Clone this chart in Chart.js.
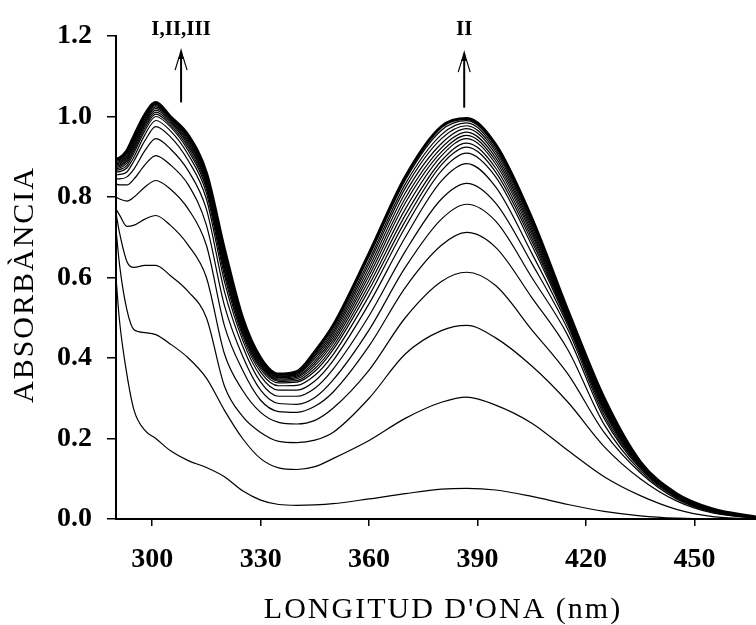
<!DOCTYPE html>
<html>
<head>
<meta charset="utf-8">
<script src="https://cdn.jsdelivr.net/npm/chart.js@4/dist/chart.umd.min.js"></script>
<style>
  html, body { margin: 0; padding: 0; background: #fff; }
  canvas { display: block; }
</style>
</head>
<body>
<canvas id="spectra" width="756" height="625"></canvas>
<script>
const wavelengths = [290, 291, 293, 295, 298, 301, 305, 310, 315, 320, 325, 330, 335, 340, 345, 350, 360, 370, 380, 387, 395, 405, 415, 425, 435, 445, 455, 467];

// absorbance spectra, lowest to highest
const abs01 = [0.60, 0.49, 0.36, 0.27, 0.22, 0.20, 0.17, 0.145, 0.128, 0.105, 0.07, 0.047, 0.036, 0.034, 0.035, 0.038, 0.05, 0.063, 0.074, 0.076, 0.072, 0.056, 0.036, 0.019, 0.008, 0.002, 0, 0];
const abs02 = [0.72, 0.63, 0.52, 0.47, 0.463, 0.458, 0.435, 0.40, 0.35, 0.27, 0.20, 0.15, 0.127, 0.123, 0.13, 0.15, 0.195, 0.25, 0.29, 0.303, 0.283, 0.238, 0.17, 0.105, 0.058, 0.024, 0.006, 0];
const abs03 = [0.76, 0.71, 0.64, 0.625, 0.63, 0.63, 0.605, 0.565, 0.50, 0.33, 0.255, 0.215, 0.193, 0.19, 0.196, 0.215, 0.30, 0.41, 0.468, 0.481, 0.45, 0.38, 0.29, 0.18, 0.10, 0.045, 0.015, 0.002];
const abs04 = [0.77, 0.755, 0.727, 0.73, 0.745, 0.754, 0.73, 0.68, 0.60, 0.41, 0.32, 0.265, 0.24, 0.236, 0.245, 0.275, 0.37, 0.50, 0.59, 0.613, 0.58, 0.47, 0.36, 0.215, 0.115, 0.05, 0.017, 0.002];
const abs05 = [0.80, 0.795, 0.79, 0.80, 0.825, 0.841, 0.82, 0.77, 0.68, 0.48, 0.37, 0.295, 0.267, 0.265, 0.28, 0.315, 0.43, 0.575, 0.68, 0.712, 0.675, 0.55, 0.42, 0.235, 0.12, 0.053, 0.018, 0.003];
const abs06 = [0.832, 0.83, 0.83, 0.845, 0.88, 0.903, 0.88, 0.83, 0.73, 0.53, 0.405, 0.32, 0.287, 0.285, 0.302, 0.345, 0.47, 0.625, 0.745, 0.782, 0.74, 0.60, 0.455, 0.25, 0.125, 0.055, 0.019, 0.003];
const abs07 = [0.845, 0.845, 0.85, 0.87, 0.915, 0.945, 0.92, 0.865, 0.77, 0.565, 0.43, 0.34, 0.305, 0.305, 0.325, 0.372, 0.505, 0.665, 0.795, 0.834, 0.785, 0.635, 0.47, 0.258, 0.128, 0.056, 0.02, 0.003];
const abs08 = [0.855, 0.856, 0.862, 0.89, 0.94, 0.975, 0.95, 0.89, 0.795, 0.59, 0.445, 0.355, 0.32, 0.32, 0.343, 0.393, 0.535, 0.70, 0.84, 0.883, 0.825, 0.66, 0.48, 0.265, 0.13, 0.057, 0.02, 0.003];
const abs09 = [0.862, 0.863, 0.872, 0.90, 0.955, 0.99, 0.965, 0.905, 0.81, 0.605, 0.455, 0.365, 0.331, 0.332, 0.357, 0.408, 0.555, 0.725, 0.865, 0.909, 0.85, 0.68, 0.486, 0.27, 0.132, 0.058, 0.021, 0.003];
const abs10 = [0.866, 0.868, 0.878, 0.91, 0.965, 1.0, 0.975, 0.915, 0.82, 0.615, 0.462, 0.372, 0.338, 0.34, 0.367, 0.42, 0.57, 0.74, 0.88, 0.924, 0.862, 0.69, 0.49, 0.274, 0.133, 0.058, 0.021, 0.004];
const abs11 = [0.87, 0.872, 0.884, 0.916, 0.972, 1.006, 0.98, 0.922, 0.826, 0.622, 0.467, 0.377, 0.342, 0.344, 0.374, 0.428, 0.582, 0.755, 0.89, 0.934, 0.872, 0.698, 0.493, 0.277, 0.134, 0.059, 0.022, 0.004];
const abs12 = [0.873, 0.876, 0.889, 0.922, 0.978, 1.011, 0.985, 0.928, 0.832, 0.629, 0.472, 0.381, 0.345, 0.348, 0.381, 0.436, 0.594, 0.77, 0.902, 0.945, 0.882, 0.706, 0.496, 0.28, 0.135, 0.059, 0.022, 0.004];
const abs13 = [0.876, 0.879, 0.893, 0.927, 0.983, 1.016, 0.989, 0.933, 0.837, 0.636, 0.477, 0.385, 0.348, 0.352, 0.387, 0.443, 0.605, 0.785, 0.912, 0.953, 0.89, 0.713, 0.499, 0.283, 0.136, 0.06, 0.022, 0.004];
const abs14 = [0.879, 0.882, 0.897, 0.932, 0.987, 1.02, 0.992, 0.938, 0.842, 0.642, 0.481, 0.388, 0.351, 0.355, 0.393, 0.45, 0.615, 0.797, 0.922, 0.961, 0.898, 0.72, 0.502, 0.286, 0.137, 0.06, 0.023, 0.004];
const abs15 = [0.882, 0.885, 0.901, 0.936, 0.991, 1.024, 0.995, 0.942, 0.846, 0.648, 0.485, 0.391, 0.353, 0.358, 0.399, 0.457, 0.625, 0.81, 0.933, 0.97, 0.906, 0.726, 0.505, 0.289, 0.138, 0.061, 0.023, 0.004];
const abs16 = [0.885, 0.888, 0.905, 0.94, 0.995, 1.027, 0.997, 0.946, 0.85, 0.654, 0.489, 0.394, 0.355, 0.36, 0.404, 0.463, 0.635, 0.822, 0.945, 0.977, 0.913, 0.732, 0.508, 0.292, 0.139, 0.061, 0.024, 0.005];
const abs17 = [0.888, 0.891, 0.909, 0.944, 0.999, 1.03, 0.998, 0.949, 0.853, 0.66, 0.492, 0.396, 0.357, 0.362, 0.408, 0.469, 0.643, 0.832, 0.955, 0.984, 0.919, 0.737, 0.511, 0.295, 0.14, 0.062, 0.024, 0.005];
const abs18 = [0.891, 0.894, 0.912, 0.948, 1.002, 1.032, 0.999, 0.951, 0.856, 0.665, 0.496, 0.398, 0.359, 0.364, 0.412, 0.475, 0.652, 0.842, 0.966, 0.99, 0.925, 0.742, 0.514, 0.298, 0.141, 0.062, 0.025, 0.005];
const abs19 = [0.894, 0.897, 0.915, 0.952, 1.005, 1.035, 1.0, 0.953, 0.86, 0.67, 0.50, 0.40, 0.36, 0.366, 0.416, 0.48, 0.66, 0.85, 0.975, 0.995, 0.93, 0.747, 0.517, 0.30, 0.142, 0.063, 0.025, 0.005];

const xTicks = [300, 330, 360, 390, 420, 450];
const yTicks = [0, 0.2, 0.4, 0.6, 0.8, 1.0, 1.2];

const xTitle = "LONGITUD D'ONA (nm)";
const yTitle = 'ABSORBÀNCIA';

// band labels with arrows (nm, absorbance)
const noteLabels = ['I,II,III', 'II'];
const noteX = [308, 386.3];
const noteFrom = [1.035, 1.022];
const noteTo = [1.17, 1.165];
const noteTextY = 1.215;

const serif = '"Liberation Serif", "Times New Roman", serif';

const spectra = [abs01, abs02, abs03, abs04, abs05, abs06, abs07, abs08, abs09, abs10,
                 abs11, abs12, abs13, abs14, abs15, abs16, abs17, abs18, abs19];

const datasets = spectra.map((values, i) => ({
  data: wavelengths.map((w, j) => ({ x: w, y: values[j] })),
  borderColor: '#000',
  borderWidth: i === spectra.length - 1 ? 3 : 1.2,
  pointRadius: 0,
  fill: false,
  cubicInterpolationMode: 'monotone'
}));

// axis titles are spaced out a bit in the original, so draw them here
const axisTitles = {
  id: 'axisTitles',
  afterDraw(chart) {
    const ctx = chart.ctx;
    const area = chart.chartArea;
    ctx.save();
    ctx.fillStyle = '#000';
    ctx.font = '30px ' + serif;
    ctx.textAlign = 'center';
    ctx.textBaseline = 'middle';
    ctx.letterSpacing = '2px';
    ctx.fillText(xTitle, (area.left + area.right) / 2 + 7, 610);
    ctx.translate(25, (area.top + area.bottom) / 2 + 7);
    ctx.rotate(-Math.PI / 2);
    ctx.fillText(yTitle, 0, 0);
    ctx.restore();
  }
};

const arrowNotes = {
  id: 'arrowNotes',
  afterDraw(chart) {
    const ctx = chart.ctx;
    const xs = chart.scales.x, ys = chart.scales.y;
    ctx.save();
    ctx.strokeStyle = '#000';
    ctx.fillStyle = '#000';
    noteLabels.forEach((label, i) => {
      const px = xs.getPixelForValue(noteX[i]);
      const yb = ys.getPixelForValue(noteFrom[i]);
      const yt = ys.getPixelForValue(noteTo[i]);
      ctx.lineWidth = 2;
      ctx.beginPath();
      ctx.moveTo(px, yb);
      ctx.lineTo(px, yt + 4);
      ctx.stroke();
      // head
      ctx.beginPath();
      ctx.moveTo(px, yt);
      ctx.lineTo(px - 3, yt + 11);
      ctx.lineTo(px + 3, yt + 11);
      ctx.closePath();
      ctx.fill();
      ctx.lineWidth = 1.2;
      ctx.beginPath();
      ctx.moveTo(px - 2, yt + 9);
      ctx.lineTo(px - 6, yt + 22);
      ctx.moveTo(px + 2, yt + 9);
      ctx.lineTo(px + 6, yt + 22);
      ctx.stroke();
      ctx.font = 'bold 21px ' + serif;
      ctx.textAlign = 'center';
      ctx.textBaseline = 'middle';
      ctx.fillText(label, px, ys.getPixelForValue(noteTextY));
    });
    ctx.restore();
  }
};

new Chart(document.getElementById('spectra'), {
  type: 'line',
  data: { datasets: datasets },
  options: {
    responsive: false,
    animation: false,
    devicePixelRatio: 1,
    layout: { padding: { top: 36, right: 0, left: 0, bottom: 0 } },
    plugins: {
      legend: { display: false },
      tooltip: { enabled: false }
    },
    scales: {
      x: {
        type: 'linear',
        min: 290,
        max: 467,
        afterBuildTicks: scale => { scale.ticks = xTicks.map(v => ({ value: v })); },
        afterFit: scale => { scale.height = 106; },
        ticks: {
          color: '#000',
          padding: 17,
          maxRotation: 0,
          autoSkip: false,
          font: { family: serif, size: 28, weight: 'bold' }
        },
        grid: { drawOnChartArea: false, tickLength: 7, color: '#000', lineWidth: 1.5 },
        border: { color: '#000', width: 2 }
      },
      y: {
        min: 0,
        max: 1.2,
        afterBuildTicks: scale => { scale.ticks = yTicks.map(v => ({ value: v })); },
        afterFit: scale => { scale.width = 116; },
        ticks: {
          color: '#000',
          padding: 15,
          callback: v => v.toFixed(1),
          font: { family: serif, size: 28, weight: 'bold' }
        },
        grid: { drawOnChartArea: false, tickLength: 9, color: '#000', lineWidth: 1.5 },
        border: { color: '#000', width: 2 }
      }
    }
  },
  plugins: [axisTitles, arrowNotes]
});
</script>
</body>
</html>
